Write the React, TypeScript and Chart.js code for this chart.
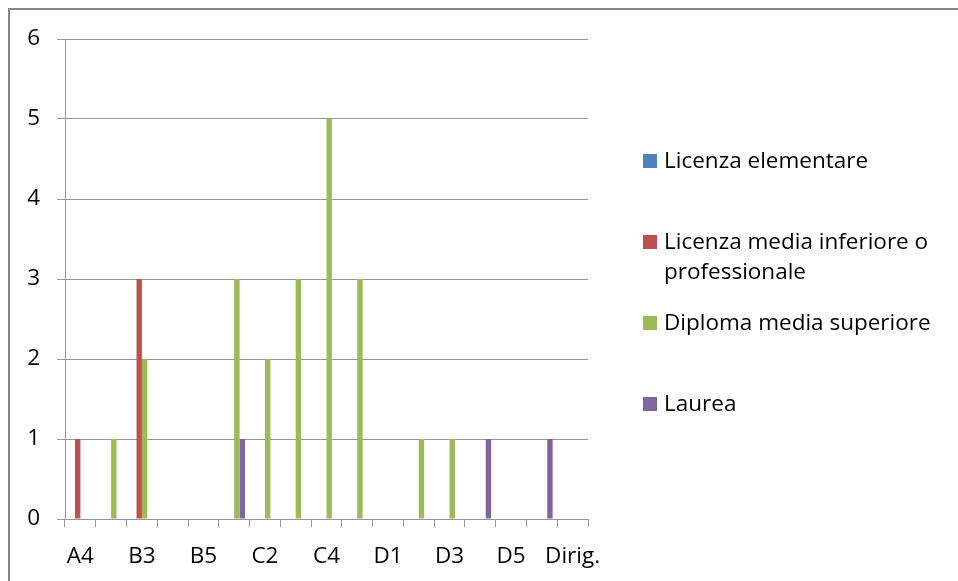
import React, { useEffect, useRef } from 'react';
import { Chart, registerables } from 'chart.js';

Chart.register(...registerables);

const categories = ['A4', 'B1', 'B3', 'B4', 'B5', 'C1', 'C2', 'C3', 'C4', 'C5', 'D1', 'D2', 'D3', 'D4', 'D5', 'D6', 'Dirig.'];
const seriesLabels = [
  'Licenza elementare',
  'Licenza media inferiore o professionale',
  'Diploma media superiore',
  'Laurea',
];
const licenzaElementare = [0, 0, 0, 0, 0, 0, 0, 0, 0, 0, 0, 0, 0, 0, 0, 0, 0];
const licenzaMedia = [1, 0, 3, 0, 0, 0, 0, 0, 0, 0, 0, 0, 0, 0, 0, 0, 0];
const diplomaSuperiore = [0, 1, 2, 0, 0, 3, 2, 3, 5, 3, 0, 1, 1, 0, 0, 0, 0];
const laurea = [0, 0, 0, 0, 0, 1, 0, 0, 0, 0, 0, 0, 0, 1, 0, 1, 0];
const seriesColors = ['#4F81BD', '#C0504D', '#9BBB59', '#8064A2'];
const yMin = 0;
const yMax = 6;
const yStep = 1;

const FONT_FAMILY = '"Open Sans", sans-serif';
const FONT_SIZE = 22.5;
const GRID = '#969696';

const framePlugin = {
  id: 'frame',
  beforeDraw(chart: any) {
    const ctx = chart.ctx;
    ctx.save();
    ctx.fillStyle = '#ffffff';
    ctx.fillRect(0, 0, chart.width, chart.height);
    ctx.fillStyle = '#868686';
    ctx.fillRect(8, 8, chart.width - 8, 2);
    ctx.fillRect(8, 8, 2, chart.height - 8);
    ctx.restore();
  },
};

const legendPlugin = {
  id: 'sideLegend',
  afterDraw(chart: any) {
    const ctx = chart.ctx;
    const boxX = 643;
    const textX = 664;
    const box = 14;
    const firstBaseline = 168;
    const slot = 81;
    const lineH = 29.5;
    const maxW = chart.width - textX - 8;
    ctx.save();
    ctx.font = `${FONT_SIZE}px ${FONT_FAMILY}`;
    ctx.textBaseline = 'alphabetic';
    ctx.textAlign = 'left';
    chart.data.datasets.forEach((ds: any, i: number) => {
      const base = firstBaseline + i * slot;
      ctx.fillStyle = ds.backgroundColor;
      ctx.fillRect(boxX, base - box, box, box);
      const words = String(ds.label).split(' ');
      const lines: string[] = [];
      let cur = '';
      words.forEach((w) => {
        const test = cur ? cur + ' ' + w : w;
        if (ctx.measureText(test).width > maxW && cur) {
          lines.push(cur);
          cur = w;
        } else {
          cur = test;
        }
      });
      if (cur) lines.push(cur);
      ctx.fillStyle = '#000000';
      lines.forEach((ln, j) => ctx.fillText(ln, textX, base + j * lineH));
    });
    ctx.restore();
  },
};

export default function App() {
  const ref = useRef<HTMLCanvasElement | null>(null);

  useEffect(() => {
    document.body.style.margin = '0';
    document.body.style.overflow = 'hidden';
    const canvas = ref.current;
    if (!canvas) return;
    const series = [licenzaElementare, licenzaMedia, diplomaSuperiore, laurea];
    const chart = new Chart(canvas, {
      type: 'bar',
      data: {
        labels: categories,
        datasets: series.map((d, i) => ({
          label: seriesLabels[i],
          data: d,
          backgroundColor: seriesColors[i],
          borderWidth: 0,
          categoryPercentage: 0.7,
          barPercentage: 1,
        })),
      },
      options: {
        responsive: false,
        animation: false,
        devicePixelRatio: 1,
        layout: { padding: { top: 39, right: 370, left: 0, bottom: 0 } },
        plugins: {
          legend: { display: false },
          title: { display: false },
          tooltip: { enabled: false },
        },
        scales: {
          x: {
            type: 'category',
            offset: true,
            afterFit(scale: any) {
              scale.height = 62;
            },
            grid: {
              display: true,
              drawOnChartArea: false,
              drawTicks: true,
              tickLength: 8,
              offset: true,
              color: GRID,
              lineWidth: 1,
            },
            border: { display: true, color: GRID, width: 1 },
            ticks: {
              autoSkip: false,
              maxRotation: 0,
              minRotation: 0,
              padding: 16,
              color: '#000000',
              font: { family: FONT_FAMILY, size: FONT_SIZE },
              callback: (_v: any, i: number) => (i % 2 === 0 ? categories[i] : ''),
            },
          },
          y: {
            min: yMin,
            max: yMax,
            afterFit(scale: any) {
              scale.width = 65;
            },
            grid: {
              color: GRID,
              lineWidth: 1,
              drawTicks: true,
              tickLength: 8,
            },
            border: { display: true, color: GRID, width: 1 },
            ticks: {
              stepSize: yStep,
              padding: 17,
              color: '#000000',
              font: { family: FONT_FAMILY, size: FONT_SIZE },
            },
          },
        },
      },
      plugins: [framePlugin, legendPlugin],
    });
    return () => chart.destroy();
  }, []);

  return <canvas ref={ref} width={958} height={581} style={{ display: 'block', width: 958, height: 581 }} />;
}
